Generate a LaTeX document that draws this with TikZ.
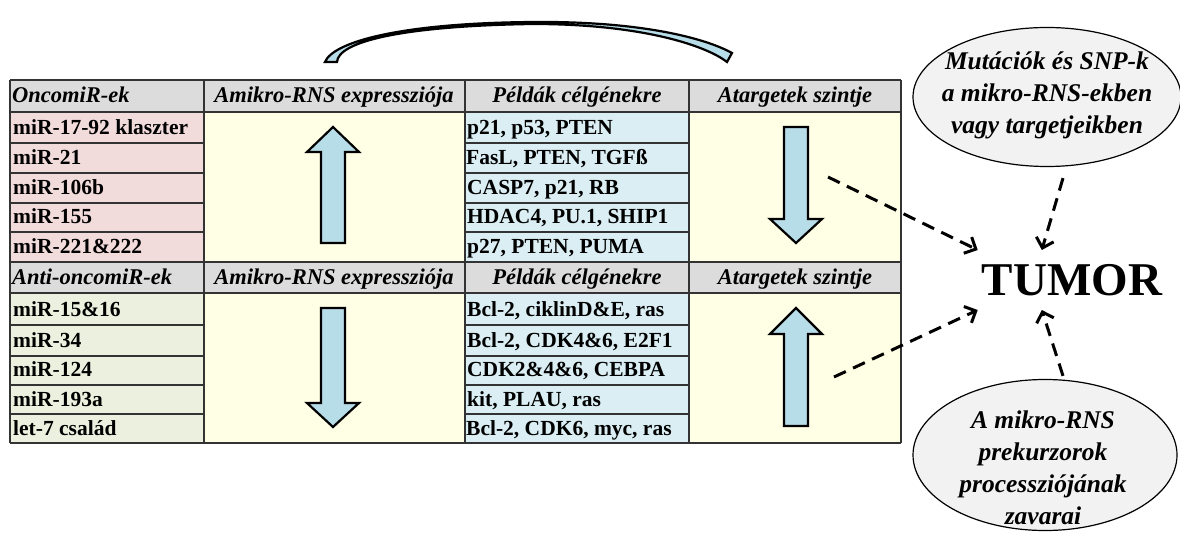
\documentclass[tikz,border=0pt]{standalone}
\usepackage{fontspec}
\setmainfont{Liberation Serif}
\usetikzlibrary{arrows.meta,positioning,shapes.geometric,calc}

\definecolor{hdrgray}{RGB}{220,220,220}
\definecolor{oncopink}{RGB}{242,220,219}
\definecolor{antigreen}{RGB}{235,241,222}
\definecolor{cellyellow}{RGB}{255,255,229}
\definecolor{cellblue}{RGB}{218,238,243}
\definecolor{arrowblue}{RGB}{183,221,232}
\definecolor{ovalgray}{RGB}{242,242,242}

\begin{document}
\begin{tikzpicture}[x=1pt, y=-1pt,
        row text/.style={anchor=base west, inner sep=0pt,
            font=\fontsize{21.5}{24}\selectfont\bfseries},
        head text/.style={anchor=base, inner sep=0pt,
            font=\fontsize{22.5}{24}\selectfont\bfseries\itshape},
        grid line/.style={black!80, line width=1.4pt},
        block arrow/.style={draw=black, fill=arrowblue, line width=2.2pt, line join=miter},
        oval/.style={ellipse, draw, fill=ovalgray, line width=1.2pt, inner sep=0pt},
        oval text/.style={align=center, inner sep=0pt,
            font=\fontsize{25.5}{32}\selectfont\bfseries\itshape},
        flow/.style={-{Straight Barb[length=9pt, width=18pt]}, line width=3pt,
            dash pattern=on 13pt off 8pt},
    ]
        \useasboundingbox (0,0) rectangle (1180,534);

        % Cell backgrounds
        \fill[hdrgray] (10,80) rectangle (901,112);
        \fill[oncopink] (10,112) rectangle (204,262);
        \fill[cellyellow] (204,112) rectangle (465,262);
        \fill[cellblue] (465,112) rectangle (689,262);
        \fill[cellyellow] (689,112) rectangle (901,262);
        \fill[hdrgray] (10,262) rectangle (901,293);
        \fill[antigreen] (10,293) rectangle (204,443);
        \fill[cellyellow] (204,293) rectangle (465,443);
        \fill[cellblue] (465,293) rectangle (689,443);
        \fill[cellyellow] (689,293) rectangle (901,443);

        % Grid
        \foreach \y in {80,112,262,293,443}
            \draw[grid line] (10,\y) -- (901,\y);
        \foreach \y in {143,173,203,232,325,356,385,414} {
            \draw[grid line] (10,\y) -- (204,\y);
            \draw[grid line] (465,\y) -- (689,\y);
        }
        \foreach \x in {10,204,465,689,901}
            \draw[grid line] (\x,80) -- (\x,443);

        % Header rows
        \node[head text, anchor=base west] (onchead) at (12,103) {OncomiR-ek};
        \node[head text] (exphead1) at (334,103) {Amikro-RNS expressziója};
        \node[head text] (genehead1) at (577,103) {Példák célgénekre};
        \node[head text] (lvlhead1) at (795,103) {Atargetek szintje};
        \node[head text, anchor=base west] (antihead) at (12,285) {Anti-oncomiR-ek};
        \node[head text] (exphead2) at (334,285) {Amikro-RNS expressziója};
        \node[head text] (genehead2) at (577,285) {Példák célgénekre};
        \node[head text] (lvlhead2) at (795,285) {Atargetek szintje};

        % OncomiR rows
        \node[row text] (onc1) at (13,135) {miR-17-92 klaszter};
        \node[row text] (onc2) at (13,165) {miR-21};
        \node[row text] (onc3) at (13,195) {miR-106b};
        \node[row text] (onc4) at (13,224) {miR-155};
        \node[row text] (onc5) at (13,254) {miR-221\&222};
        \node[row text] (gene1) at (467,135) {p21, p53, PTEN};
        \node[row text] (gene2) at (466,165) {FasL, PTEN, TGFß};
        \node[row text] (gene3) at (467,195) {CASP7, p21, RB};
        \node[row text] (gene4) at (467,224) {HDAC4, PU.1, SHIP1};
        \node[row text] (gene5) at (467,254) {p27, PTEN, PUMA};

        % Anti-oncomiR rows
        \node[row text] (anti1) at (13,317) {miR-15\&16};
        \node[row text] (anti2) at (13,348) {miR-34};
        \node[row text] (anti3) at (13,377) {miR-124};
        \node[row text] (anti4) at (13,406) {miR-193a};
        \node[row text] (anti5) at (13,435) {let-7 család};
        \node[row text] (gene6) at (467,317) {Bcl-2, ciklinD\&E, ras};
        \node[row text] (gene7) at (467,348) {Bcl-2, CDK4\&6, E2F1};
        \node[row text] (gene8) at (467,377) {CDK2\&4\&6, CEBPA};
        \node[row text] (gene9) at (467,406) {kit, PLAU, ras};
        \node[row text] (gene10) at (466,435) {Bcl-2, CDK6, myc, ras};

        % Block arrows
        \draw[block arrow] (321,243) -- (321,152) -- (307,152) -- (333,127)
            -- (359,152) -- (345,152) -- (345,243) -- cycle;
        \draw[block arrow] (784,127) -- (784,219) -- (770,219) -- (796,243)
            -- (822,219) -- (808,219) -- (808,127) -- cycle;
        \draw[block arrow] (321,308) -- (321,403) -- (307,403) -- (333,427)
            -- (359,403) -- (345,403) -- (345,308) -- cycle;
        \draw[block arrow] (784,426) -- (784,334) -- (770,334) -- (796,308)
            -- (822,334) -- (808,334) -- (808,426) -- cycle;

        % Curved arrow over the table
        \draw[block arrow, line width=2.2pt] (325,62) .. controls (333,42) and (400,23) .. (533,22)
            .. controls (640,21) and (705,38) .. (732,53) -- (727,62)
            .. controls (705,45) and (640,24) .. (533,24)
            .. controls (400,26) and (338,42) .. (337,62) -- cycle;

        % Tumor and causes
        \node[font=\fontsize{47}{50}\selectfont\bfseries, inner xsep=4pt, inner ysep=14pt]
            (tumor) at (1072,280) {TUMOR};
        \node[oval, minimum width=268pt, minimum height=139pt] (mut) at (1047,97) {};
        \node[oval text] (muttext) at (1047,95) {Mutációk és SNP-k\\a mikro-RNS-ekben\\vagy targetjeikben};
        \node[oval, minimum width=264pt, minimum height=151pt] (prek) at (1045,455) {};
        \node[oval text] (prektext) at (1043,468) {A mikro-RNS\\prekurzorok\\processziójának\\zavarai};

        % Dashed flows
        \coordinate (upstart) at (828,177);
        \coordinate (dnstart) at (834,377);
        \draw[flow] (upstart) -- (tumor.north west);
        \draw[flow] (dnstart) -- (tumor.south west);
        \draw[flow] ([xshift=16pt, yshift=-11pt]mut.south)
            -- ($(tumor.north west)!0.34!(tumor.north east)$);
        \draw[flow] ([xshift=18pt, yshift=3pt]prek.north)
            -- ($(tumor.south west)!0.34!(tumor.south east)$);
    \end{tikzpicture}
\end{document}
